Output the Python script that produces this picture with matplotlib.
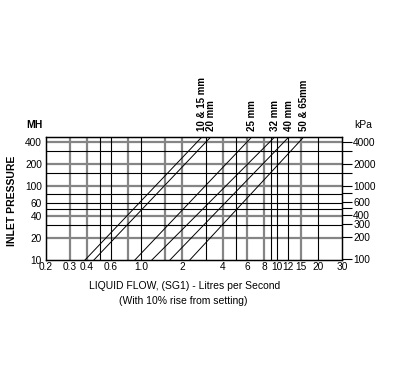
import matplotlib
matplotlib.use('Agg')
import matplotlib.pyplot as plt
from matplotlib.ticker import NullLocator, FixedLocator, FixedFormatter

plt.rcParams['font.family'] = ['Liberation Sans', 'DejaVu Sans']

# ---- data ----
sizes = ['10 & 15 mm', '20 mm', '25 mm', '32 mm', '40 mm', '50 & 65mm']
line_pressure = [10, 470]                       # MH at the two ends of each line
flow_at_low = [0.387, 0.45, 0.90, 1.20, 1.63, 2.28]   # l/s at 10 MH
flow_at_high = [2.80, 3.25, 6.51, 9.60, 12.2, 15.7]   # l/s at 470 MH

x_ticks = [0.2, 0.3, 0.4, 0.6, 1.0, 2, 4, 6, 8, 10, 12, 15, 20, 30]
x_labels = ['0.2', '0.3', '0.4', '0.6', '1.0', '2', '4', '6', '8', '10', '12', '15', '20', '30']
y_ticks = [10, 20, 40, 60, 100, 200, 400]
y_labels = ['10', '20', '40', '60', '100', '200', '400']
kpa_ticks = [100, 200, 300, 400, 500, 600, 800, 1000, 1500, 2000, 3000, 4000]
kpa_labels = ['100', '200', '300', '400', '', '600', '', '1000', '', '2000', '', '4000']

vgrid_black = [0.5, 0.6, 1.0, 3, 5, 9, 10, 12, 20]
vgrid_grey = [0.3, 0.4, 0.8, 1.5, 2, 4, 6, 8, 15]
hgrid_black = [30, 50, 60, 80, 150, 300]
hgrid_grey = [20, 40, 100, 200, 400]

KPA_PER_MH = 9.81

fig = plt.figure(figsize=(4, 3.8), dpi=100)
ax = fig.add_axes([46 / 400, 1 - 260 / 380, 296 / 400, 123 / 380])
ax.set_xscale('log')
ax.set_yscale('log')
ax.set_xlim(0.2, 30)
ax.set_ylim(10, 470)

grey = '#858585'
for v in vgrid_grey:
    ax.axvline(v, color=grey, lw=1.6, zorder=1)
for v in vgrid_black:
    ax.axvline(v, color='black', lw=0.8, zorder=2)
for h in hgrid_grey:
    ax.axhline(h, color=grey, lw=1.6, zorder=1)
for h in hgrid_black:
    ax.axhline(h, color='black', lw=0.8, zorder=2)

for lo, hi, lbl in zip(flow_at_low, flow_at_high, sizes):
    ax.plot([lo, hi], line_pressure, color='black', lw=0.7, zorder=3)
    ax.annotate(lbl, xy=(hi, 1), xycoords=('data', 'axes fraction'),
                xytext=(0, 6), textcoords='offset pixels', rotation=90,
                ha='center', va='bottom', fontsize=7, fontweight='bold')

ax.xaxis.set_major_locator(FixedLocator(x_ticks))
ax.xaxis.set_major_formatter(FixedFormatter(x_labels))
ax.xaxis.set_minor_locator(NullLocator())
ax.yaxis.set_major_locator(FixedLocator(y_ticks))
ax.yaxis.set_major_formatter(FixedFormatter(y_labels))
ax.yaxis.set_minor_locator(NullLocator())
ax.tick_params(axis='x', length=0, pad=1.5, labelsize=7.3)
ax.tick_params(axis='y', length=0, pad=3, labelsize=7.3)
for s in ax.spines.values():
    s.set_linewidth(0.9)
    s.set_color('black')

ax2 = ax.twinx()
ax2.set_yscale('log')
ax2.set_ylim(10 * KPA_PER_MH, 470 * KPA_PER_MH)
ax2.yaxis.set_major_locator(FixedLocator(kpa_ticks))
ax2.yaxis.set_major_formatter(FixedFormatter(kpa_labels))
ax2.yaxis.set_minor_locator(NullLocator())
ax2.tick_params(axis='y', length=7, width=0.8, pad=1, labelsize=7.3, direction='out')
for s in ax2.spines.values():
    s.set_linewidth(0.9)

fig.text(34 / 400, 1 - 125 / 380, 'MH', ha='center', va='center', fontsize=7.5, fontweight='bold')
fig.text(363 / 400, 1 - 125 / 380, 'kPa', ha='center', va='center', fontsize=7.5)
fig.text(12 / 400, 1 - 201 / 380, 'INLET PRESSURE', ha='center', va='center',
         rotation=90, fontsize=7.5, fontweight='bold')
fig.text(185 / 400, 1 - 286 / 380, 'LIQUID FLOW, (SG1) - Litres per Second',
         ha='center', va='center', fontsize=7.5)
fig.text(183 / 400, 1 - 301 / 380, '(With 10% rise from setting)',
         ha='center', va='center', fontsize=7.5)

fig.savefig('out.png', dpi=100)
